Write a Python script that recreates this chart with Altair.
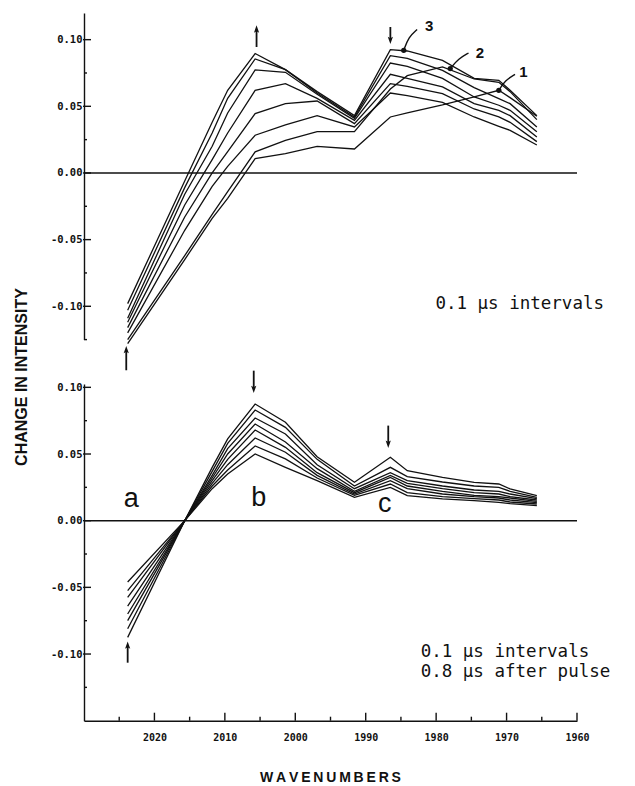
import altair as alt
import pandas as pd

# ---------------- data ----------------
WAVENUMBERS = [2023.8, 2015.7, 2011.8, 2009.6, 2005.7, 2001.4, 1996.9, 1991.6,
               1986.5, 1984.1, 1979.1, 1974.6, 1971.1, 1969.5, 1965.7]

# upper panel: 8 traces (0.1 us intervals)
top_1 = [-0.098, -0.006, 0.038, 0.062, 0.0896, 0.0775, 0.061, 0.043, 0.0925, 0.0915, 0.0845, 0.071, 0.0695, 0.062, 0.043]
top_2 = [-0.103, -0.011, 0.030, 0.056, 0.0855, 0.0775, 0.060, 0.042, 0.088, 0.086, 0.077, 0.064, 0.0558, 0.052, 0.0345]
top_3 = [-0.109, -0.016, 0.020, 0.045, 0.0773, 0.0755, 0.059, 0.041, 0.0825, 0.080, 0.071, 0.057, 0.0508, 0.047, 0.031]
top_4 = [-0.112, -0.024, 0.010, 0.030, 0.062, 0.067, 0.056, 0.0395, 0.074, 0.071, 0.0645, 0.052, 0.047, 0.043, 0.027]
top_5 = [-0.116, -0.033, 0.000, 0.016, 0.0445, 0.052, 0.054, 0.037, 0.067, 0.065, 0.0595, 0.048, 0.042, 0.038, 0.0235]
top_6 = [-0.120, -0.043, -0.010, 0.005, 0.0283, 0.036, 0.043, 0.0345, 0.060, 0.058, 0.053, 0.042, 0.035, 0.032, 0.021]
top_7 = [-0.125, -0.062, -0.031, -0.014, 0.0158, 0.0245, 0.031, 0.031, 0.063, 0.073, 0.0795, 0.0705, 0.068, 0.061, 0.040]
top_8 = [-0.128, -0.065, -0.034, -0.019, 0.0108, 0.0145, 0.020, 0.018, 0.042, 0.045, 0.051, 0.057, 0.062, 0.0565, 0.0425]

# lower panel: 8 traces (0.1 us intervals, 0.8 us after pulse)
bot_1 = [-0.0875, 0.0, 0.040, 0.0613, 0.0875, 0.0738, 0.048, 0.0288, 0.0475, 0.0375, 0.0325, 0.0288, 0.0275, 0.0238, 0.0188]
bot_2 = [-0.081, 0.0, 0.037, 0.058, 0.083, 0.070, 0.046, 0.026, 0.040, 0.033, 0.029, 0.026, 0.025, 0.022, 0.0175]
bot_3 = [-0.075, 0.0, 0.034, 0.054, 0.077, 0.065, 0.042, 0.024, 0.036, 0.030, 0.026, 0.023, 0.022, 0.020, 0.0165]
bot_4 = [-0.070, 0.0, 0.032, 0.050, 0.0725, 0.059, 0.039, 0.022, 0.034, 0.028, 0.024, 0.021, 0.020, 0.018, 0.0155]
bot_5 = [-0.064, 0.0, 0.030, 0.046, 0.068, 0.055, 0.036, 0.021, 0.0325, 0.026, 0.022, 0.019, 0.018, 0.017, 0.0145]
bot_6 = [-0.0575, 0.0, 0.028, 0.042, 0.062, 0.0513, 0.034, 0.020, 0.030, 0.024, 0.020, 0.018, 0.017, 0.0155, 0.0135]
bot_7 = [-0.0525, 0.0, 0.026, 0.038, 0.056, 0.0463, 0.032, 0.019, 0.0275, 0.021, 0.018, 0.0165, 0.0155, 0.014, 0.0125]
bot_8 = [-0.046, 0.0, 0.024, 0.035, 0.050, 0.040, 0.030, 0.0175, 0.025, 0.0188, 0.0163, 0.015, 0.0138, 0.0128, 0.0113]

Y_MAJOR = [-0.10, -0.05, 0.00, 0.05, 0.10]
Y_MINOR = [-0.125, -0.075, -0.025, 0.025, 0.075]
X_MAJOR = [2020, 2010, 2000, 1990, 1980, 1970, 1960]
X_MINOR = [2025, 2015, 2005, 1995, 1985, 1975, 1965]

# annotations
top_arrow_w = [2005.5, 1986.5, 2024.0]
top_arrow_tail = [0.0945, 0.1095, -0.148]
top_arrow_head = [0.1075, 0.100, -0.133]
bot_arrow_w = [2005.9, 1986.8, 2023.8]
bot_arrow_tail = [0.1125, 0.0713, -0.1065]
bot_arrow_head = [0.099, 0.0578, -0.0938]

leader_id = ["3", "3", "3", "2", "2", "2", "1", "1", "1"]
leader_w = [1982.7, 1983.9, 1984.6, 1975.4, 1976.8, 1978.0, 1968.8, 1970.2, 1971.1]
leader_v = [0.1076, 0.102, 0.092, 0.090, 0.0858, 0.0783, 0.074, 0.0695, 0.062]
num_text = ["3", "2", "1"]
num_w = [1981.0, 1973.8, 1967.6]
num_v = [0.110, 0.0902, 0.0755]

letter_text = ["a", "b", "c"]
letter_w = [2023.3, 2005.2, 1987.3]
letter_v = [0.0105, 0.0113, 0.0068]

top_note = ["0.1 \u00b5s intervals"]
top_note_w = [1980.1]
top_note_v = [-0.0985]
bot_note = ["0.1 \u00b5s intervals", "0.8 \u00b5s after pulse"]
bot_note_w = [1982.2, 1982.2]
bot_note_v = [-0.0985, -0.1135]

# ---------------- layout ----------------
W = 493
TOP_H = 326.6
BOT_H = 336.7
INK = "#111111"
MONO = "DejaVu Sans Mono"
HEAD_UP = "M0,-1L0.6,0.7L0,0.35L-0.6,0.7Z"
HEAD_DOWN = "M0,1L0.6,-0.7L0,-0.35L-0.6,-0.7Z"


def long_df(series):
    rows = []
    for name, vals in series.items():
        for w, v in zip(WAVENUMBERS, vals):
            rows.append({"w": w, "v": v, "s": name})
    return pd.DataFrame(rows)


top_df = long_df({"1": top_1, "2": top_2, "3": top_3, "4": top_4,
                  "5": top_5, "6": top_6, "7": top_7, "8": top_8})
bot_df = long_df({"1": bot_1, "2": bot_2, "3": bot_3, "4": bot_4,
                  "5": bot_5, "6": bot_6, "7": bot_7, "8": bot_8})

xscale = alt.Scale(domain=[1960, 2030], reverse=True, nice=False, zero=False)
label_expr = "datum.value < 0 ? '-' + format(-datum.value, '.2f') : format(datum.value, '.2f')"


def yaxis():
    return alt.Axis(values=Y_MAJOR, ticks=False, tickSize=0, grid=False,
                    domain=True, domainColor=INK, domainWidth=1.4,
                    labelFont=MONO, labelFontSize=10.5, labelFontWeight="bold",
                    labelColor=INK, labelPadding=2, labelExpr=label_expr,
                    labelOverlap=False, labelFlush=False, title=None)


def panel(df, domain, h, arrow_w, arrow_tail, arrow_head, show_x):
    yenc = alt.Y("v:Q", scale=alt.Scale(domain=domain, nice=False, zero=False), axis=yaxis())
    if show_x:
        xaxis = alt.Axis(values=X_MAJOR, format="d", ticks=False, tickSize=0, grid=False,
                         domain=True, domainColor=INK, domainWidth=1.4,
                         labelFont=MONO, labelFontSize=10, labelFontWeight="bold",
                         labelColor=INK, labelPadding=12, labelFlush=False,
                         labelOverlap=False, title=None)
    else:
        xaxis = None
    xenc = alt.X("w:Q", scale=xscale, axis=xaxis)

    lines = alt.Chart(df).mark_line(color=INK, strokeWidth=1.3).encode(
        x=xenc, y=yenc, detail="s:N")

    zero = alt.Chart(pd.DataFrame({"v": [0.0]})).mark_rule(color=INK, strokeWidth=1.5).encode(y=yenc)

    ymaj = alt.Chart(pd.DataFrame({"v": Y_MAJOR})).mark_rule(color=INK, strokeWidth=1.4).encode(
        y=yenc, x=alt.value(-1), x2=alt.value(7))
    ymin = alt.Chart(pd.DataFrame({"v": Y_MINOR})).mark_rule(color=INK, strokeWidth=1.4).encode(
        y=yenc, x=alt.value(0), x2=alt.value(3))

    adf = pd.DataFrame({"w": arrow_w, "v": arrow_tail, "v2": arrow_head,
                        "shape": [HEAD_UP if hd > tl else HEAD_DOWN
                                  for tl, hd in zip(arrow_tail, arrow_head)]})
    shafts = alt.Chart(adf).mark_rule(color=INK, strokeWidth=1.8).encode(
        x=xenc, y=yenc, y2="v2:Q")
    hdf = pd.DataFrame({"w": arrow_w, "v": arrow_head, "shape": adf["shape"]})
    heads = alt.Chart(hdf).mark_point(filled=True, color=INK, size=75, opacity=1).encode(
        x=xenc, y=yenc, shape=alt.Shape("shape:N", scale=None))

    layers = [zero, lines, ymaj, ymin, shafts, heads]

    if show_x:
        xmaj = alt.Chart(pd.DataFrame({"w": X_MAJOR})).mark_rule(color=INK, strokeWidth=1.4).encode(
            x=xenc, y=alt.value(h), y2=alt.value(h - 8))
        xmin = alt.Chart(pd.DataFrame({"w": X_MINOR})).mark_rule(color=INK, strokeWidth=1.4).encode(
            x=xenc, y=alt.value(h), y2=alt.value(h - 4))
        layers += [xmaj, xmin]

    return alt.layer(*layers), xenc, yenc


top, xt, yt = panel(top_df, [-0.125, 0.12], TOP_H, top_arrow_w, top_arrow_tail,
                    top_arrow_head, False)
bottom, xb, yb = panel(bot_df, [-0.15, 0.1025], BOT_H, bot_arrow_w, bot_arrow_tail,
                       bot_arrow_head, True)

# upper-panel annotations
leaders = alt.Chart(pd.DataFrame({"id": leader_id, "w": leader_w, "v": leader_v,
                                  "k": list(range(len(leader_id)))})).mark_line(
    color=INK, strokeWidth=1.4, interpolate="basis").encode(
    x=xt, y=yt, detail="id:N", order="k:Q")
leader_end = pd.DataFrame({"w": leader_w[2::3], "v": leader_v[2::3]})
leader_dots = alt.Chart(leader_end).mark_point(filled=True, color=INK, size=28, opacity=1).encode(
    x=xt, y=yt)
numbers = alt.Chart(pd.DataFrame({"t": num_text, "w": num_w, "v": num_v})).mark_text(
    font="Liberation Sans", fontSize=15, fontWeight="bold", color=INK, baseline="middle").encode(
    x=xt, y=yt, text="t:N")
top_txt = alt.Chart(pd.DataFrame({"t": top_note, "w": top_note_w, "v": top_note_v})).mark_text(
    font=MONO, fontSize=17.5, color=INK, align="left", baseline="middle").encode(
    x=xt, y=yt, text="t:N")

top = alt.layer(top, leaders, leader_dots, numbers, top_txt).properties(width=W, height=TOP_H)

# lower-panel annotations
letters = alt.Chart(pd.DataFrame({"t": letter_text, "w": letter_w, "v": letter_v})).mark_text(
    font="Liberation Sans", fontSize=27, color=INK, baseline="alphabetic").encode(
    x=xb, y=yb, text="t:N")
bot_txt = alt.Chart(pd.DataFrame({"t": bot_note, "w": bot_note_w, "v": bot_note_v})).mark_text(
    font=MONO, fontSize=17.5, color=INK, align="left", baseline="middle").encode(
    x=xb, y=yb, text="t:N")
ytitle = alt.Chart(pd.DataFrame({"t": ["CHANGE IN INTENSITY"]})).mark_text(
    font="Liberation Sans", fontSize=16, fontWeight="bold", color=INK, angle=270,
    align="center", baseline="middle").encode(
    text="t:N", x=alt.value(-62), y=alt.value(-7))
xtitle = alt.Chart(pd.DataFrame({"t": ["W\u2009A\u2009V\u2009E\u2009N\u2009U\u2009M\u2009B\u2009E\u2009R\u2009S"]})).mark_text(
    font="Liberation Sans", fontSize=14, fontWeight="bold", color=INK, align="center",
    baseline="middle").encode(
    text="t:N", x=alt.value(W / 2), y=alt.value(BOT_H + 57))

bottom = alt.layer(bottom, letters, bot_txt, ytitle, xtitle).properties(width=W, height=BOT_H)

chart = alt.vconcat(top, bottom, spacing=44, bounds="flush").configure_view(
    stroke=None).properties(background="white")

chart.save("out.html", embed_options={"renderer": "svg", "actions": False})
